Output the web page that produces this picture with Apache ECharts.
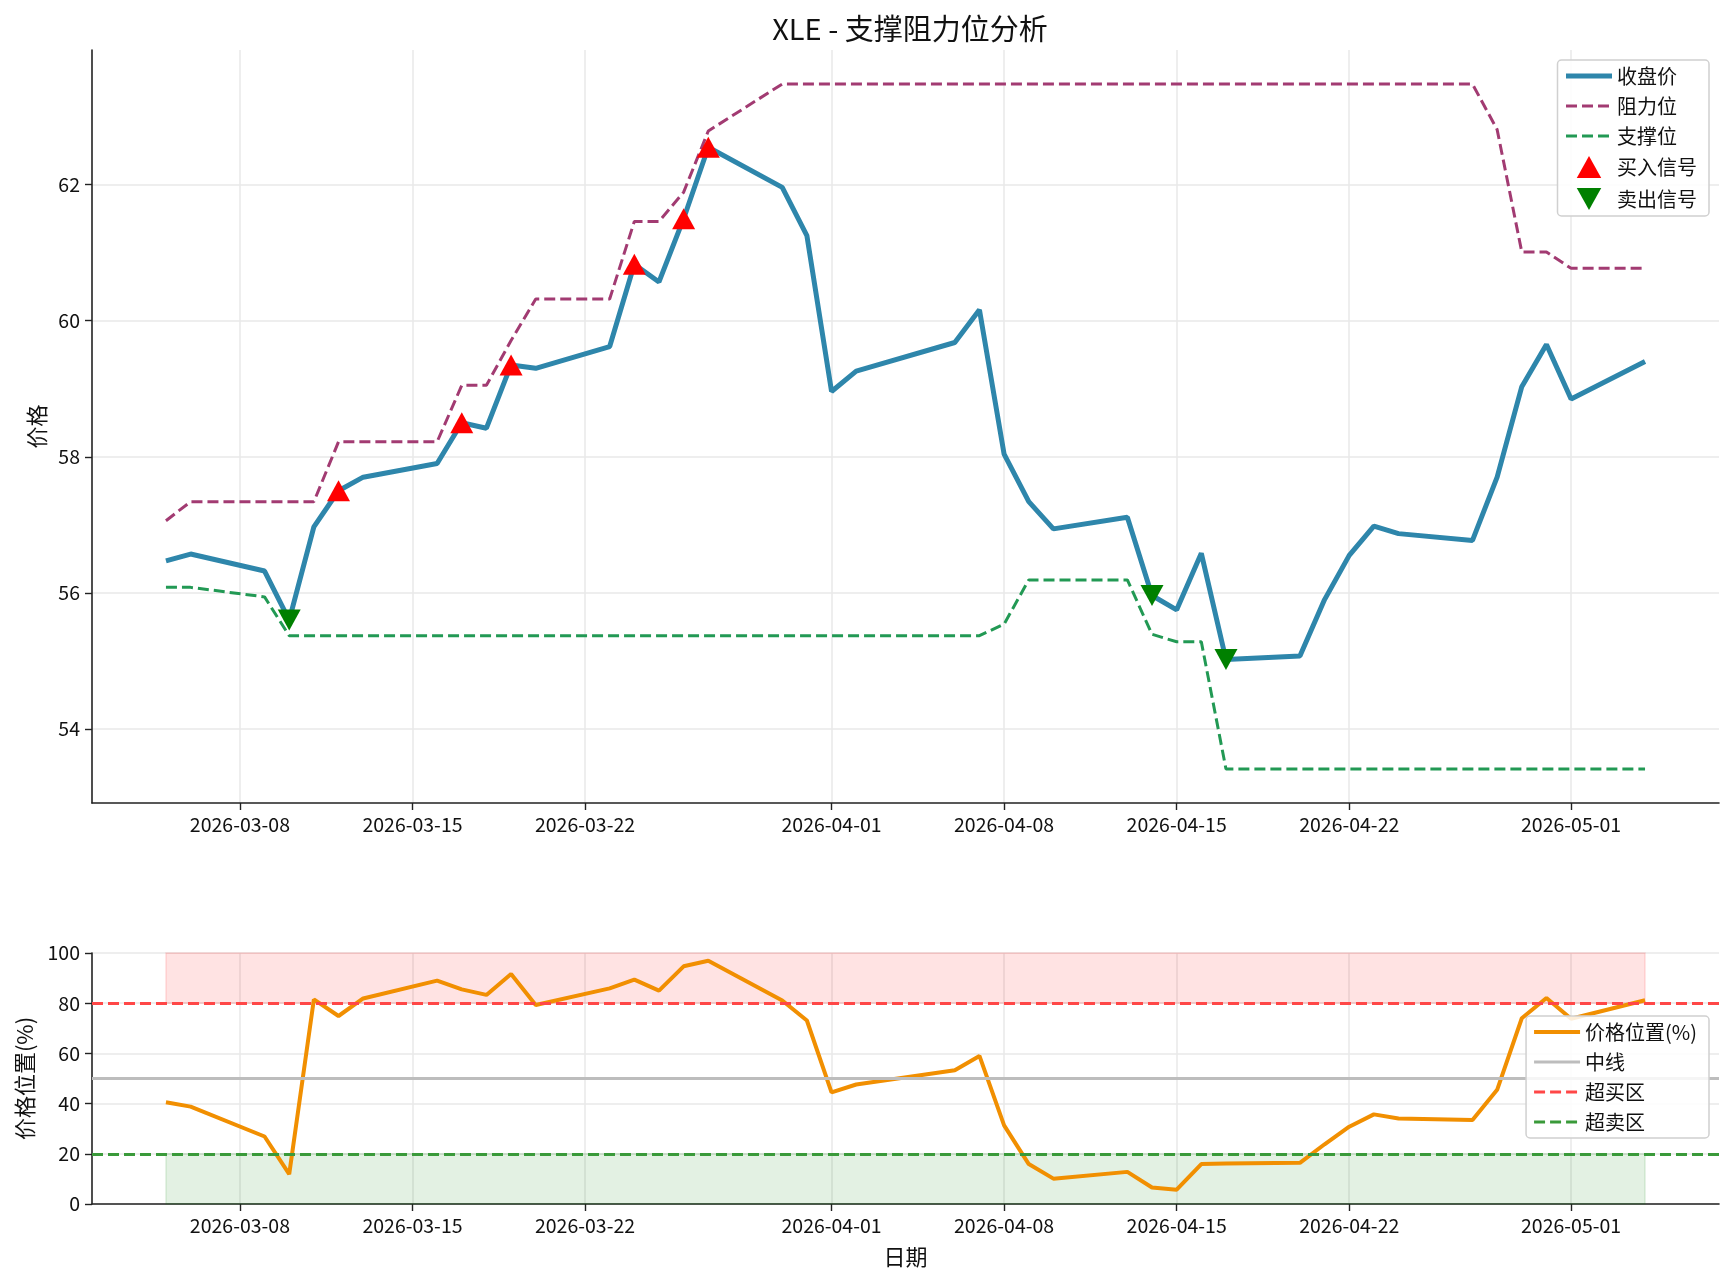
<!DOCTYPE html>
<html><head><meta charset="utf-8">
<script src="https://cdn.jsdelivr.net/npm/echarts@6/dist/echarts.min.js"></script>
<style>html,body{margin:0;padding:0;background:#fff}#c{width:1734px;height:1284px}</style>
</head><body><div id="c"></div><script>
// ---- data ----
const axisStart = '2026-03-02';
const axisEnd = '2026-05-07';
const tickLabels = ['2026-03-08','2026-03-15','2026-03-22','2026-04-01','2026-04-08','2026-04-15','2026-04-22','2026-05-01'];
const priceTicks = [54, 56, 58, 60, 62];
const positionTicks = [0, 20, 40, 60, 80, 100];
const dates = ['2026-03-05','2026-03-06','2026-03-09','2026-03-10','2026-03-11','2026-03-12','2026-03-13','2026-03-16','2026-03-17','2026-03-18','2026-03-19','2026-03-20','2026-03-23','2026-03-24','2026-03-25','2026-03-26','2026-03-27','2026-03-30','2026-03-31','2026-04-01','2026-04-02','2026-04-06','2026-04-07','2026-04-08','2026-04-09','2026-04-10','2026-04-13','2026-04-14','2026-04-15','2026-04-16','2026-04-17','2026-04-20','2026-04-21','2026-04-22','2026-04-23','2026-04-24','2026-04-27','2026-04-28','2026-04-29','2026-04-30','2026-05-01','2026-05-04'];
const closePrice = [56.47,56.57,56.32,55.60,56.97,57.50,57.70,57.90,58.50,58.42,59.35,59.30,59.62,60.83,60.57,61.50,62.55,61.96,61.25,58.96,59.26,59.68,60.16,58.04,57.34,56.94,57.11,55.96,55.75,56.58,55.02,55.07,55.90,56.55,56.98,56.87,56.77,57.70,59.03,59.65,58.85,59.40];
const resistance = [57.06,57.34,57.34,57.34,57.34,58.22,58.22,58.22,59.05,59.05,59.71,60.32,60.32,61.46,61.46,61.89,62.79,63.48,63.48,63.48,63.48,63.48,63.48,63.48,63.48,63.48,63.48,63.48,63.48,63.48,63.48,63.48,63.48,63.48,63.48,63.48,63.48,62.81,61.01,61.01,60.77,60.77];
const support = [56.08,56.08,55.94,55.37,55.37,55.37,55.37,55.37,55.37,55.37,55.37,55.37,55.37,55.37,55.37,55.37,55.37,55.37,55.37,55.37,55.37,55.37,55.37,55.54,56.19,56.19,56.19,55.39,55.28,55.28,53.41,53.41,53.41,53.41,53.41,53.41,53.41,53.41,53.41,53.41,53.41,53.41];
const position = [40.5,38.8,26.9,11.9,81.5,74.9,81.9,89.0,85.5,83.3,91.6,79.3,85.9,89.4,85.0,94.7,96.9,81.1,73.1,44.5,47.6,53.3,59.0,31.3,15.9,10.1,12.8,6.6,5.7,15.9,16.1,16.4,23.8,30.8,35.7,34.1,33.5,45.5,74.0,82.1,73.8,81.2];
const buyDates = ['2026-03-12','2026-03-17','2026-03-19','2026-03-24','2026-03-26','2026-03-27'];
const buyPrices = [57.50,58.50,59.35,60.83,61.50,62.55];
const sellDates = ['2026-03-10','2026-04-14','2026-04-17'];
const sellPrices = [55.60,55.96,55.02];
const overbought = 80, midline = 50, oversold = 20;

// ---- build ----
function dayList(a, b) {
  const out = [];
  let d = new Date(a + 'T00:00:00Z');
  const e = new Date(b + 'T00:00:00Z');
  while (d <= e) { out.push(d.toISOString().slice(0, 10)); d = new Date(d.getTime() + 86400000); }
  return out;
}
const days = dayList(axisStart, axisEnd);
const zip = (xs, ys) => xs.map((x, i) => [x, ys[i]]);
const FONT = 'Noto Sans CJK SC';
const isTick = (i, v) => tickLabels.indexOf(v) >= 0;
const UP_TRI = 'path://M5,0L10,9L0,9Z';
const DOWN_TRI = 'path://M0,0L10,0L5,9Z';
const NO_SYMBOL = { color: 'rgba(0,0,0,0)', borderWidth: 0, opacity: 0 };
const DASH = [11, 5];

const C_PRICE = '#2E86AB', C_RES = '#A23B72', C_SUP = '#229954', C_POS = '#F18F01';
const C_MID = '#bdbdbd', C_OB = '#FF4747', C_OS = '#3A9A3A';

function xAxisCfg(gi, withName) {
  return {
    type: 'category', gridIndex: gi, data: days, boundaryGap: false,
    axisLine: { lineStyle: { color: '#222', width: 1.6 } },
    axisTick: { show: true, interval: isTick, length: 7, lineStyle: { color: '#222', width: 1.4 } },
    axisLabel: { interval: isTick, color: '#111', fontSize: 19.5, fontFamily: FONT, margin: 12 },
    splitLine: { show: true, interval: isTick, lineStyle: { color: '#e8e8e8', width: 1.5 } },
    name: withName ? '日期' : '', nameLocation: 'middle', nameGap: 42,
    nameTextStyle: { fontSize: 22, fontFamily: FONT, color: '#111' }
  };
}
function yAxisCfg(gi, min, max, ticks, name, gap) {
  return {
    type: 'value', gridIndex: gi, min: min, max: max,
    name: name, nameLocation: 'middle', nameGap: gap,
    nameTextStyle: { fontSize: 22, fontFamily: FONT, color: '#111' },
    axisLine: { show: true, lineStyle: { color: '#222', width: 1.6 } },
    axisTick: { show: true, length: 7, customValues: ticks, lineStyle: { color: '#222', width: 1.4 } },
    axisLabel: { color: '#111', fontSize: 19.5, fontFamily: FONT, margin: 12, customValues: ticks },
    splitLine: { show: true, lineStyle: { color: '#e8e8e8', width: 1.5 } }
  };
}
const legendBase = {
  orient: 'vertical', right: 25, itemWidth: 46, itemHeight: 22, itemGap: 10, padding: [6, 12, 6, 6],
  symbolKeepAspect: true,
  backgroundColor: 'rgba(255,255,255,0.85)', borderColor: '#d0d0d0', borderWidth: 1.5, borderRadius: 4,
  textStyle: { fontSize: 20, fontFamily: FONT, color: '#111' }, z: 20
};
const lineItem = (name, color, width, type) =>
  ({ name: name, itemStyle: NO_SYMBOL, lineStyle: { color: color, width: width, type: type } });

const chart = echarts.init(document.getElementById('c'), null, { renderer: 'canvas' });
chart.setOption({
  backgroundColor: '#fff',
  animation: false,
  title: { text: 'XLE - 支撑阻力位分析', left: 905, textAlign: 'center', top: 9,
    textStyle: { fontSize: 29, fontWeight: 'normal', fontFamily: FONT, color: '#111' } },
  grid: [
    { left: 92, right: 15, top: 50, height: 753 },
    { left: 92, right: 15, top: 953, height: 251 }
  ],
  legend: [
    Object.assign({}, legendBase, { top: 60, data: [
      lineItem('收盘价', C_PRICE, 5, 'solid'), lineItem('阻力位', C_RES, 3, DASH), lineItem('支撑位', C_SUP, 3, DASH),
      { name: '买入信号', icon: UP_TRI }, { name: '卖出信号', icon: DOWN_TRI }] }),
    Object.assign({}, legendBase, { top: 1016, data: [
      lineItem('价格位置(%)', C_POS, 4, 'solid'), lineItem('中线', C_MID, 3, 'solid'),
      lineItem('超买区', C_OB, 3, DASH), lineItem('超卖区', C_OS, 3, DASH)] })
  ],
  xAxis: [ xAxisCfg(0, false), xAxisCfg(1, true) ],
  yAxis: [
    yAxisCfg(0, 52.91, 63.98, priceTicks, '价格', 44),
    yAxisCfg(1, 0, 100, positionTicks, '价格位置(%)', 56)
  ],
  series: [
    { name: '收盘价', type: 'line', xAxisIndex: 0, yAxisIndex: 0, data: zip(dates, closePrice),
      symbol: 'none', lineStyle: { color: C_PRICE, width: 5 }, itemStyle: { color: C_PRICE }, z: 3 },
    { name: '阻力位', type: 'line', xAxisIndex: 0, yAxisIndex: 0, data: zip(dates, resistance),
      symbol: 'none', lineStyle: { color: C_RES, width: 3, type: DASH }, itemStyle: { color: C_RES }, z: 2 },
    { name: '支撑位', type: 'line', xAxisIndex: 0, yAxisIndex: 0, data: zip(dates, support),
      symbol: 'none', lineStyle: { color: C_SUP, width: 3, type: DASH }, itemStyle: { color: C_SUP }, z: 2 },
    { name: '买入信号', type: 'scatter', xAxisIndex: 0, yAxisIndex: 0, data: zip(buyDates, buyPrices),
      symbol: UP_TRI, symbolSize: [23, 21], itemStyle: { color: '#FF0000', opacity: 1 }, z: 5 },
    { name: '卖出信号', type: 'scatter', xAxisIndex: 0, yAxisIndex: 0, data: zip(sellDates, sellPrices),
      symbol: DOWN_TRI, symbolSize: [23, 21], itemStyle: { color: '#008000', opacity: 1 }, z: 5 },

    { name: '价格位置(%)', type: 'line', xAxisIndex: 1, yAxisIndex: 1, data: zip(dates, position),
      symbol: 'none', lineStyle: { color: C_POS, width: 4 }, itemStyle: { color: C_POS }, z: 4 },
    { name: '中线', type: 'line', xAxisIndex: 1, yAxisIndex: 1, data: [],
      symbol: 'none', lineStyle: { color: C_MID, width: 3 }, itemStyle: { color: C_MID },
      markLine: { silent: true, symbol: 'none', label: { show: false },
        lineStyle: { color: C_MID, width: 3, type: 'solid' }, data: [{ yAxis: midline }] }, z: 3 },
    { name: '超买区', type: 'line', xAxisIndex: 1, yAxisIndex: 1, data: [],
      symbol: 'none', lineStyle: { color: C_OB, width: 3, type: DASH }, itemStyle: { color: C_OB },
      markLine: { silent: true, symbol: 'none', label: { show: false },
        lineStyle: { color: C_OB, width: 3, type: DASH }, data: [{ yAxis: overbought }] },
      markArea: { silent: true, itemStyle: { color: 'rgba(255,0,0,0.11)', borderColor: 'rgba(255,0,0,0.12)', borderWidth: 1.5 },
        data: [[{ xAxis: dates[0], yAxis: overbought }, { xAxis: dates[dates.length - 1], yAxis: 100 }]] }, z: 3 },
    { name: '超卖区', type: 'line', xAxisIndex: 1, yAxisIndex: 1, data: [],
      symbol: 'none', lineStyle: { color: C_OS, width: 3, type: DASH }, itemStyle: { color: C_OS },
      markLine: { silent: true, symbol: 'none', label: { show: false },
        lineStyle: { color: C_OS, width: 3, type: DASH }, data: [{ yAxis: oversold }] },
      markArea: { silent: true, itemStyle: { color: 'rgba(0,128,0,0.11)', borderColor: 'rgba(0,128,0,0.12)', borderWidth: 1.5 },
        data: [[{ xAxis: dates[0], yAxis: 0 }, { xAxis: dates[dates.length - 1], yAxis: oversold }]] }, z: 3 }
  ]
});
</script></body></html>
